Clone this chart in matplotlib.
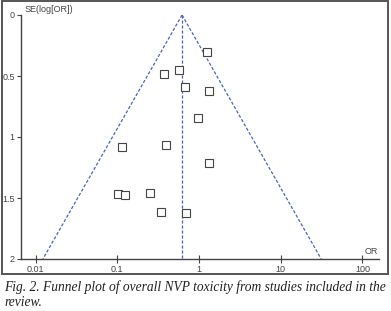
import numpy as np
import matplotlib.pyplot as plt
from matplotlib.patches import Rectangle

# study odds ratios and standard errors
odds_ratio = [1.26, 0.376, 0.569, 0.674, 1.31, 0.97, 0.114, 0.392, 1.31,
              0.102, 0.124, 0.249, 0.343, 0.687]
se_log_or = [0.306, 0.484, 0.451, 0.588, 0.623, 0.844, 1.084, 1.068, 1.216,
             1.470, 1.478, 1.459, 1.615, 1.625]
pooled_or = 0.62
se_max = 2.0
x_ticks = [0.01, 0.1, 1, 10, 100]
x_tick_labels = ['0.01', '0.1', '1', '10', '100']
y_ticks = [0, 0.5, 1, 1.5, 2]
y_tick_labels = ['0', '0.5', '1', '1.5', '2']
caption1 = "Fig. 2. Funnel plot of overall NVP toxicity from studies included in the"
caption2 = "review."

W, H = 391, 311
fig = plt.figure(figsize=(W / 100, H / 100), dpi=100)

# frame around the chart
fig.patches.append(Rectangle((1.5 / W, 1 - 273.5 / H), 386 / W, 272.5 / H,
                             transform=fig.transFigure, fill=False,
                             edgecolor='#555555', linewidth=1.4))

ax = fig.add_axes([21 / W, 1 - 259 / H, 358 / W, 244 / H])
ax.set_xscale('log')
ax.set_xlim(10 ** -2.178, 10 ** 2.202)
ax.set_ylim(se_max, 0)

# funnel: pooled line and 95% limits
se = np.array([0, se_max])
blue = '#4a63c4'
dash = (0, (2.5, 1.5))
ax.plot([pooled_or, pooled_or], [0, se_max], color=blue, lw=0.9, ls=dash)
ax.plot(np.exp(np.log(pooled_or) - 1.96 * se), se, color=blue, lw=0.9, ls=dash)
ax.plot(np.exp(np.log(pooled_or) + 1.96 * se), se, color=blue, lw=0.9, ls=dash)

ax.plot(odds_ratio, se_log_or, 's', ms=5.5, mfc='white', mec='#444444', mew=0.8)

for s in ['top', 'right']:
    ax.spines[s].set_visible(False)
for s in ['left', 'bottom']:
    ax.spines[s].set_color('#444444')
    ax.spines[s].set_linewidth(1.0)

ax.set_xticks(x_ticks)
ax.set_xticklabels(x_tick_labels)
ax.xaxis.set_minor_locator(plt.NullLocator())
ax.set_yticks(y_ticks)
ax.set_yticklabels(y_tick_labels)
ax.tick_params(axis='x', direction='inout', length=6, width=0.8, colors='#444444',
               labelsize=6.5, pad=1)
ax.tick_params(axis='y', direction='out', length=3, width=0.8, colors='#444444',
               labelsize=6.5, pad=1.5)
for lab in ax.get_xticklabels() + ax.get_yticklabels():
    lab.set_family('Liberation Sans')

fig.text(25 / W, 1 - 10 / H, 'SE(log[OR])', fontsize=6.5, color='#444444',
         family='Liberation Sans', ha='left', va='center')
fig.text(371 / W, 1 - 252 / H, 'OR', fontsize=6.5, color='#444444',
         family='Liberation Sans', ha='center', va='center')

fig.text(4 / W, 1 - 291 / H, caption1, fontsize=9.75, family='Liberation Serif',
         style='italic', color='#222222', ha='left', va='baseline')
fig.text(4 / W, 1 - 306.5 / H, caption2, fontsize=9.75, family='Liberation Serif',
         style='italic', color='#222222', ha='left', va='baseline')

fig.savefig('out.png', dpi=100)
